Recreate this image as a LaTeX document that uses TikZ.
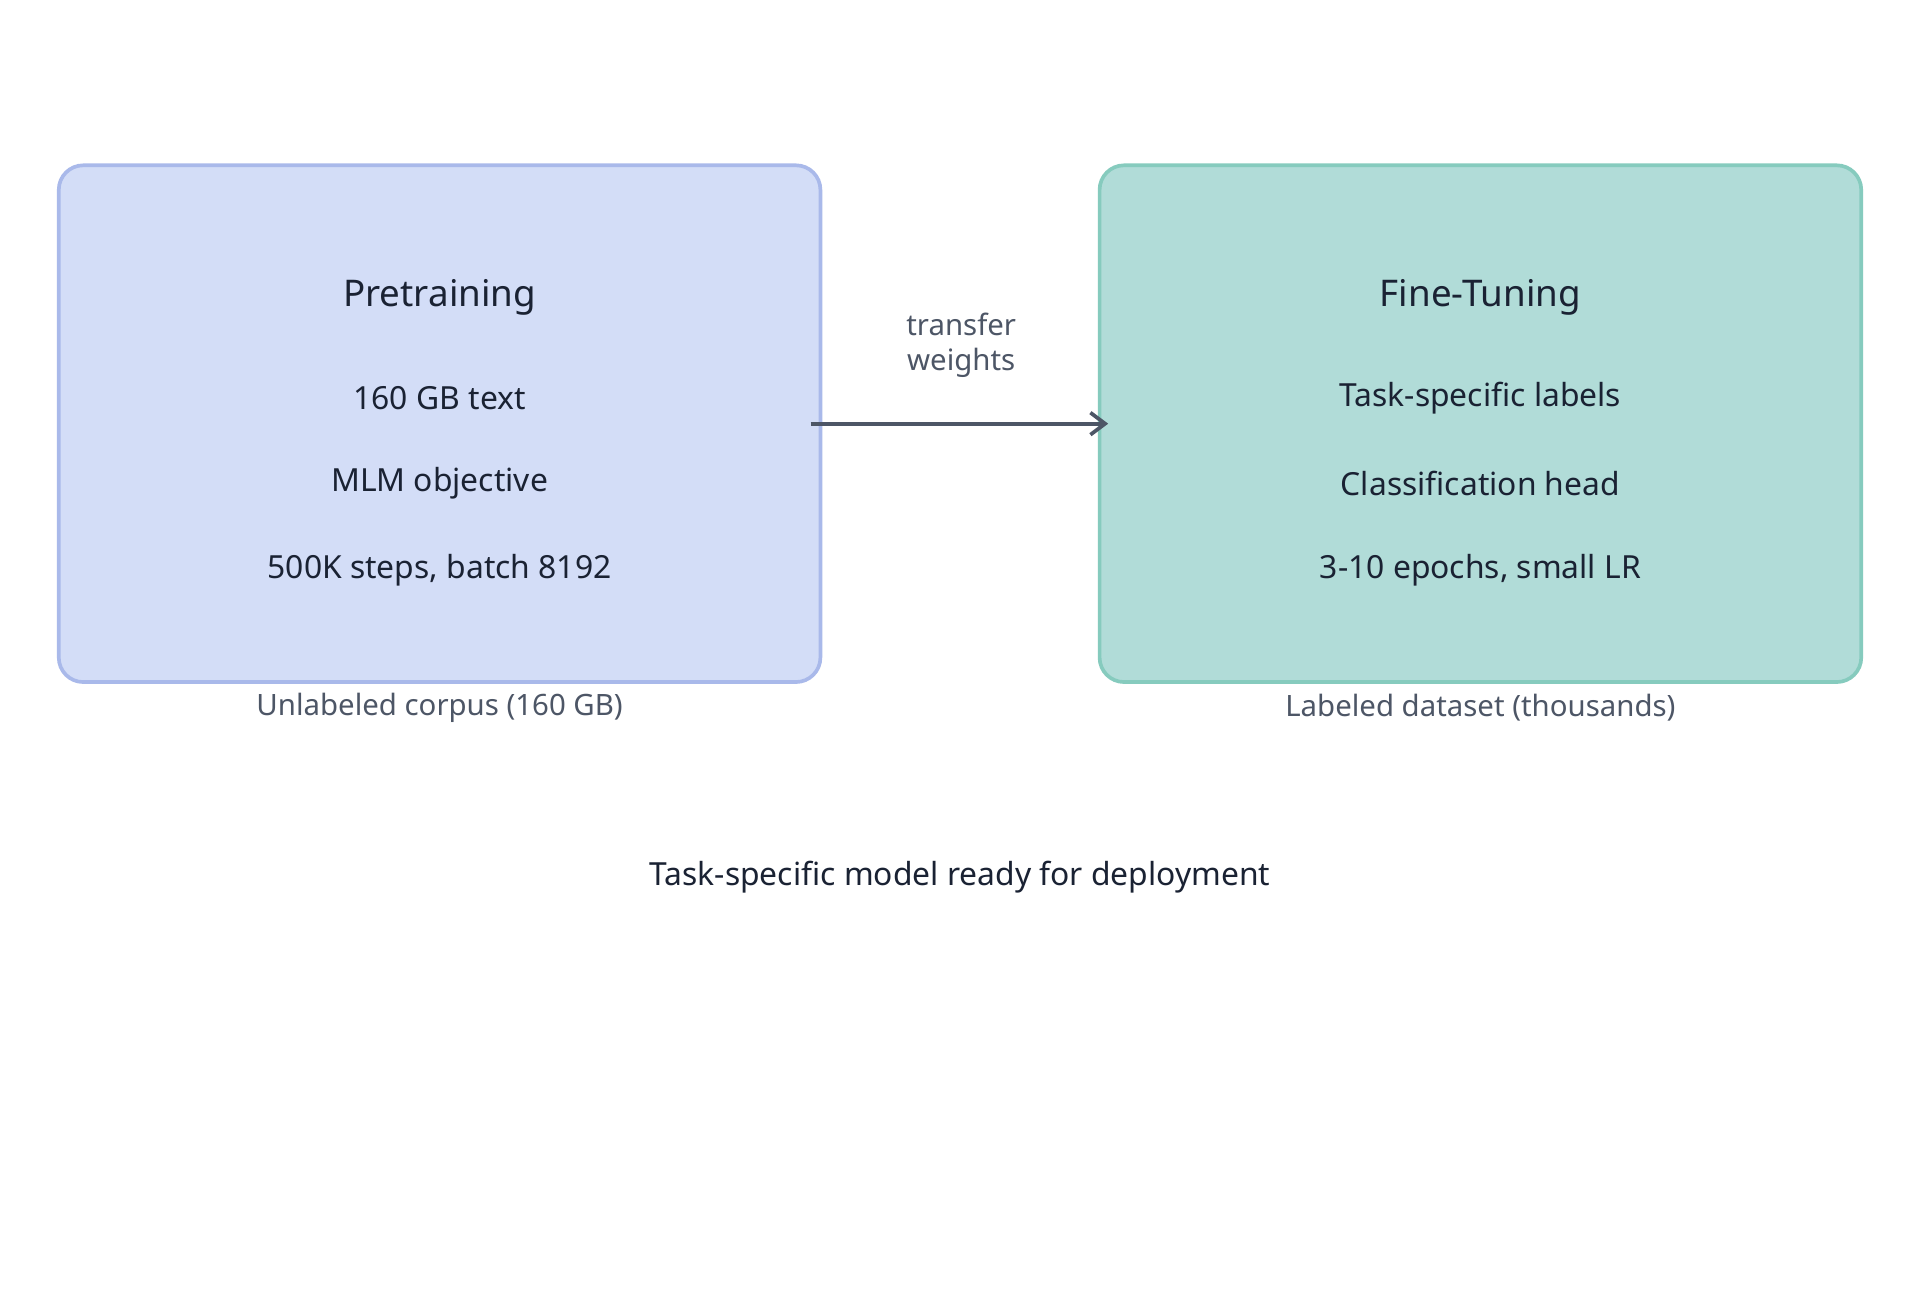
\documentclass[tikz,border=0pt]{standalone}
\usepackage{fontspec}
\setmainfont{Noto Sans}
\usetikzlibrary{arrows.meta}
\definecolor{bluefill}{HTML}{D3DDF7}
\definecolor{blueline}{HTML}{A9B9EA}
\definecolor{greenfill}{HTML}{B1DCD8}
\definecolor{greenline}{HTML}{86CBBE}
\definecolor{txt}{HTML}{1A2233}
\definecolor{gry}{HTML}{4D5666}
\begin{document}
\begin{tikzpicture}[x=0.5pt,y=-0.5pt,
  panel/.style={rounded corners=10pt,line width=1.5pt},
  ttl/.style={font=\fontsize{15}{18}\selectfont,text=txt},
  body/.style={font=\fontsize{13}{16}\selectfont,text=txt},
  captxt/.style={font=\fontsize{12}{14}\selectfont,text=gry}]
\useasboundingbox[fill=white] (0,0) rectangle (1568,1055);
\draw[panel,fill=bluefill,draw=blueline] (48,135) rectangle (670,557);
\draw[panel,fill=greenfill,draw=greenline] (898,135) rectangle (1520,557);
\node[ttl] (pt) at (359,243) {Pretraining};
\node[body] (p1) at (359,325) {160 GB text};
\node[body] (p2) at (359,395) {MLM objective};
\node[body] (p3) at (359,466) {500K steps, batch 8192};
\node[ttl] (ft) at (1209,243) {Fine-Tuning};
\node[body] (f1) at (1209,325) {Task-specific labels};
\node[body] (f2) at (1209,395) {Classification head};
\node[body] (f3) at (1209,466) {3-10 epochs, small LR};
\node[captxt] (c1) at (359,578) {Unlabeled corpus (160 GB)};
\node[captxt] (c2) at (1209,578) {Labeled dataset (thousands)};
\node[captxt,align=center] (tw) at (785,282) {transfer\\weights};
\coordinate (a1) at (662,346);
\coordinate (a2) at (905,346);
\draw[line width=1.5pt,draw=gry,-{Straight Barb[length=6pt,width=9pt]}] (a1) -- (a2);
\node[body] (bt) at (784,716) {Task-specific model ready for deployment};
\end{tikzpicture}
\end{document}
